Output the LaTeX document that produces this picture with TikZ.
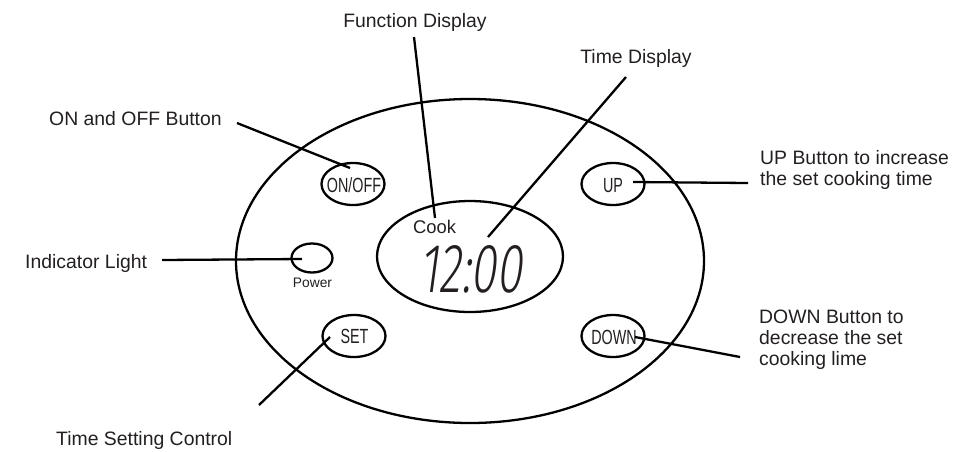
\documentclass[tikz,border=0pt]{standalone}
\usepackage{fontspec}
\setmainfont{Liberation Sans}
\newfontfamily\narrowfont[FakeStretch=0.7]{Liberation Sans}
\newfontfamily\segfont[FakeSlant=0.2]{Fira Sans Light}
\usetikzlibrary{shapes.geometric,calc}
\definecolor{ink}{RGB}{35,31,32}
\begin{document}
\begin{tikzpicture}[x=1pt,y=-1pt,
  outl/.style={draw=black,line width=2.3pt,ellipse,inner sep=0pt},
  btn/.style={outl,minimum width=63pt,minimum height=42pt},
  lbl/.style={text=ink,font=\fontsize{19.4}{21}\selectfont,inner sep=0pt},
  btxt/.style={text=ink,font=\narrowfont\fontsize{20.5}{22}\selectfont,inner sep=0pt},
  lead/.style={draw=black,line width=2.3pt}]
\useasboundingbox (0,0) rectangle (967,451);
% body
\node[outl,minimum width=468pt,minimum height=324pt] (body) at (470,261) {};
\node[outl,minimum width=186pt,minimum height=111pt] (disp) at (470,256.5) {};
% buttons
\node[btn] (onoff) at (353,184) {};
\node[btn] (up) at (613,184) {};
\node[btn] (set) at (354,336) {};
\node[btn] (down) at (613,336) {};
\node[outl,minimum width=41pt,minimum height=29pt] (light) at (312,258) {};
\node[btxt,anchor=base] (onofft) at (354,192) {ON/OFF};
\node[btxt,anchor=base] (upt) at (613,192) {UP};
\node[btxt,anchor=base] (sett) at (354.5,343) {SET};
\node[btxt,anchor=base] (downt) at (614,344) {DOWN};
\node[text=ink,font=\fontsize{13.8}{15}\selectfont,inner sep=0pt,anchor=base] (power) at (312.5,287) {Power};
% display
\node[text=ink,font=\fontsize{18.4}{20}\selectfont,inner sep=0pt,anchor=base] (cook) at (434.5,233) {Cook};
\node[text=ink,inner sep=0pt,anchor=base] (clock) at (471,292) {\resizebox{103pt}{47pt}{\segfont 12:00}};
% labels
\node[lbl,anchor=base west] (lon) at (49,125) {ON and OFF Button};
\node[lbl,anchor=base west] (lind) at (25,268) {Indicator Light};
\node[lbl,anchor=base] (lfun) at (415,27) {Function Display};
\node[lbl,anchor=base] (ltime) at (636,63) {Time Display};
\node[lbl,anchor=base west,align=left] (lup) at (760,185) {UP Button to increase\\the set cooking time};
\node[lbl,anchor=base west,align=left] (ldown) at (759,365) {DOWN Button to\\decrease the set\\cooking lime};
\node[lbl,anchor=base west] (lset) at (56,445) {Time Setting Control};
% leader ends
\coordinate (a1) at (237,123); \coordinate (a2) at (350,168);
\coordinate (b1) at (162,260); \coordinate (b2) at (302,259);
\coordinate (c1) at (414,37);  \coordinate (c2) at (435,218);
\coordinate (d1) at (626,77);  \coordinate (d2) at (488,237);
\coordinate (e1) at (748,183); \coordinate (e2) at (633,182);
\coordinate (f1) at (740,357); \coordinate (f2) at (635,337);
\coordinate (g1) at (259,405); \coordinate (g2) at (330,337);
\draw[lead] (a1) -- (a2);
\draw[lead] (b1) -- (b2);
\draw[lead] (c1) -- (c2);
\draw[lead] (d1) -- (d2);
\draw[lead] (e1) -- (e2);
\draw[lead] (f1) -- (f2);
\draw[lead] (g1) -- (g2);
\end{tikzpicture}
\end{document}
